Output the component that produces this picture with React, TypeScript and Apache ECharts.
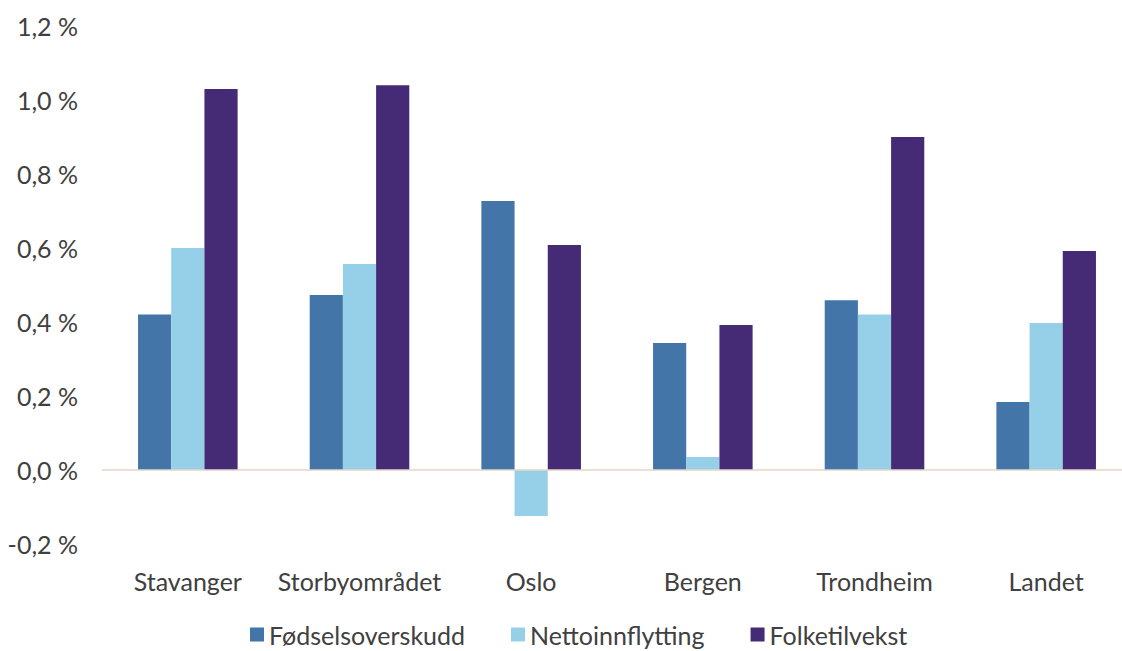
import React, { useEffect, useRef } from "react";
import * as echarts from "echarts";

const categories = ["Stavanger", "Storbyområdet", "Oslo", "Bergen", "Trondheim", "Landet"];
const fodselsoverskudd = [0.42, 0.473, 0.727, 0.343, 0.459, 0.184];
const nettoinnflytting = [0.6, 0.557, -0.124, 0.035, 0.42, 0.397];
const folketilvekst = [1.03, 1.04, 0.608, 0.392, 0.9, 0.592];
const seriesNames = ["Fødselsoverskudd", "Nettoinnflytting", "Folketilvekst"];
const colors = ["#4375A9", "#95D0E8", "#452A75"];

export default function App() {
  const ref = useRef<HTMLDivElement>(null);
  useEffect(() => {
    if (!ref.current) return;
    const chart = echarts.init(ref.current, null, { renderer: "svg" });
    const font = "Lato, 'Open Sans', sans-serif";
    const data = [fodselsoverskudd, nettoinnflytting, folketilvekst];
    chart.setOption({
      animation: false,
      backgroundColor: "#ffffff",
      textStyle: { fontFamily: font },
      grid: { left: 102, top: 26, width: 1030, bottom: 107 },
      legend: {
        top: 617,
        left: 245,
        itemWidth: 14,
        itemHeight: 14,
        itemGap: 46,
        icon: "rect",
        textStyle: { fontSize: 25, color: "#404040", fontFamily: font },
        data: seriesNames,
      },
      xAxis: {
        type: "category",
        data: categories,
        axisLine: { show: false },
        axisTick: { show: false },
        axisLabel: { fontSize: 25, color: "#404040", margin: 24, interval: 0, fontFamily: font },
      },
      yAxis: {
        type: "value",
        min: -0.2,
        max: 1.2,
        interval: 0.2,
        splitLine: { show: false },
        axisLine: { show: false },
        axisTick: { show: false },
        axisLabel: {
          fontSize: 25,
          color: "#404040",
          margin: 24,
          fontFamily: font,
          formatter: (v: number) => v.toFixed(1).replace(".", ",") + " %",
        },
      },
      series: seriesNames.map((name, i) => ({
        name,
        type: "bar",
        data: data[i],
        barGap: "0%",
        barCategoryGap: "42%",
        itemStyle: { color: colors[i] },
        markLine:
          i === 0
            ? {
                silent: true,
                symbol: "none",
                label: { show: false },
                lineStyle: { color: "#E6D4C6", width: 1.5, type: "solid" },
                data: [{ yAxis: 0 }],
              }
            : undefined,
      })),
    });
    return () => chart.dispose();
  }, []);
  return (
    <div style={{ position: "fixed", left: 0, top: 0, width: 1122, height: 651, overflow: "hidden" }}>
      <div ref={ref} style={{ width: 1150, height: 651 }} />
    </div>
  );
}
